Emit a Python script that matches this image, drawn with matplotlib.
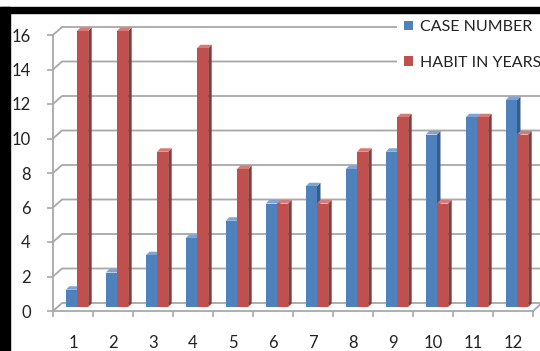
import matplotlib
matplotlib.use("Agg")
import matplotlib.pyplot as plt
from matplotlib.patches import Patch, Polygon, Rectangle

plt.rcParams['font.family'] = ['Lato', 'DejaVu Sans']

# data
cases = [1, 2, 3, 4, 5, 6, 7, 8, 9, 10, 11, 12]
case_number = [1, 2, 3, 4, 5, 6, 7, 8, 9, 10, 11, 12]
habit_years = [16, 16, 9, 15, 8, 6, 6, 9, 11, 6, 11, 10]
y_ticks = [0, 2, 4, 6, 8, 10, 12, 14, 16]

# colours (front, side, top)
blue = ('#4F81BD', '#385D8A', '#7EA3D4')
red = ('#C0504D', '#8B3A38', '#D57A77')
grid_c = '#a8a8a8'

W, H, DPI = 540, 351, 100
fig = plt.figure(figsize=(W / DPI, H / DPI), dpi=DPI)
ax_l, ax_b, ax_w, ax_h = 53, 40, 480, 276
ax = fig.add_axes([ax_l / W, ax_b / H, ax_w / W, ax_h / H])
ax.set_xlim(0.5, 12.5)
ax.set_ylim(0, 16)

# pixel sizes of one data unit, used for the fake depth
px_x = ax_w / 12.0
px_y = ax_h / 16.0
wall_dx, wall_dy = 9 / px_x, 8 / px_y      # back wall offset
bar_dx, bar_dy = 4 / px_x, 4 / px_y        # front face of bars
dep_dx, dep_dy = 3.5 / px_x, 3.5 / px_y    # bar depth

# back wall gridlines with the little diagonal on the side wall
for v in y_ticks:
    ax.plot([0.5, 0.5 + wall_dx, 13.0], [v, v + wall_dy, v + wall_dy],
            color=grid_c, lw=1.3, clip_on=False, zorder=1)
# floor edge on the right
ax.plot([12.5, 12.5 + wall_dx], [0, wall_dy], color=grid_c, lw=1.3,
        clip_on=False, zorder=1)


def bar3d(x0, w, v, cols):
    x1 = x0 + bar_dx
    y1 = bar_dy
    front = Rectangle((x1, y1), w, v, facecolor=cols[0], edgecolor='none', zorder=3)
    side = Polygon([(x1 + w, y1), (x1 + w + dep_dx, y1 + dep_dy),
                    (x1 + w + dep_dx, y1 + v + dep_dy), (x1 + w, y1 + v)],
                   facecolor=cols[1], edgecolor='none', zorder=3)
    top = Polygon([(x1, y1 + v), (x1 + dep_dx, y1 + v + dep_dy),
                   (x1 + w + dep_dx, y1 + v + dep_dy), (x1 + w, y1 + v)],
                  facecolor=cols[2], edgecolor='none', zorder=3)
    for p in (side, top, front):
        p.set_clip_on(False)
        ax.add_patch(p)


bw = 0.28
for c, a, b in zip(cases, case_number, habit_years):
    bar3d(c - bw, bw, a, blue)
    bar3d(c, bw, b, red)

# axes
for s in ['top', 'right']:
    ax.spines[s].set_visible(False)
for s in ['left', 'bottom']:
    ax.spines[s].set_color(grid_c)
    ax.spines[s].set_linewidth(1.3)
    ax.spines[s].set_zorder(2)

ax.set_yticks(y_ticks)
ax.tick_params(axis='y', length=4, width=1.2, color=grid_c, pad=12,
               labelsize=12, labelcolor='#222222')
ax.set_xticks(cases)
ax.set_xticklabels([str(c) for c in cases])
ax.set_xticks([c + 0.5 for c in [0] + cases], minor=True)
ax.tick_params(axis='x', which='major', length=0, pad=17,
               labelsize=12, labelcolor='#222222')
ax.tick_params(axis='x', which='minor', length=4, width=1.2, color=grid_c)

handles = [Patch(facecolor=blue[0], label='CASE NUMBER'),
           Patch(facecolor=red[0], label='HABIT IN YEARS')]
leg = ax.legend(handles=handles, loc='upper left',
                bbox_to_anchor=(397 / W, 1 - 13 / H), bbox_transform=fig.transFigure,
                frameon=True, fancybox=False, framealpha=1, edgecolor='none',
                handlelength=0.55, handleheight=0.55, handletextpad=0.45,
                labelspacing=1.35, borderpad=0.45, borderaxespad=0,
                fontsize=11.5, labelcolor='#222222')
leg.set_zorder(5)

# black frame on the left and top
fig.add_artist(Rectangle((0, 0), 10 / W, (H - 7) / H, transform=fig.transFigure,
                         color='black', zorder=10))
fig.add_artist(Rectangle((0, (H - 13) / H), 1, 6 / H, transform=fig.transFigure,
                         color='black', zorder=10))

fig.savefig('out.png', dpi=DPI)
